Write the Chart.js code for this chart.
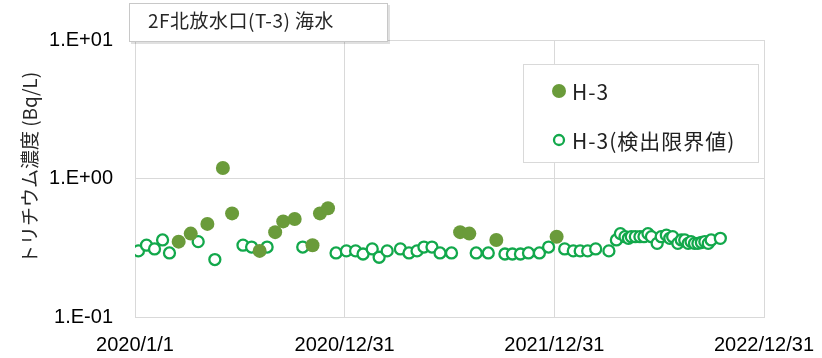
<!DOCTYPE html>
<html lang="ja">
<head>
<meta charset="utf-8">
<script src="https://cdn.jsdelivr.net/npm/chart.js@4/dist/chart.umd.min.js"></script>
<style>
    html, body { margin: 0; padding: 0; background: #fff; }
    #wrap { width: 822px; height: 358px; }
</style>
</head>
<body>
<div id="wrap"><canvas id="h3Chart" width="822" height="358"></canvas></div>
<script>
// H-3 測定値（検出された試料）
const h3Dates = [
    '2020-03-17', '2020-04-07', '2020-05-06', '2020-06-02', '2020-06-18', '2020-08-05',
    '2020-09-01', '2020-09-15', '2020-10-05', '2020-11-05', '2020-11-18', '2020-12-02',
    '2021-07-20', '2021-08-05', '2021-09-21', '2022-01-04'
];
const h3Values = [
    0.35, 0.40, 0.47, 1.19, 0.56, 0.30,
    0.41, 0.49, 0.51, 0.33, 0.56, 0.61,
    0.41, 0.40, 0.36, 0.38
];

// 検出限界値（不検出の試料）
const limitDates = [
    '2020-01-07', '2020-01-21', '2020-02-04', '2020-02-18', '2020-03-01', '2020-04-20',
    '2020-05-19', '2020-07-07', '2020-07-22', '2020-08-18', '2020-10-19', '2020-12-16',
    '2021-01-03', '2021-01-19', '2021-02-01', '2021-02-17', '2021-03-01', '2021-03-15',
    '2021-04-07', '2021-04-22', '2021-05-06', '2021-05-18', '2021-06-01', '2021-06-15',
    '2021-07-05', '2021-08-17', '2021-09-07', '2021-10-06', '2021-10-19', '2021-11-02',
    '2021-11-16', '2021-12-05', '2021-12-21', '2022-01-18', '2022-02-02', '2022-02-14',
    '2022-02-27', '2022-03-13', '2022-04-05', '2022-04-18', '2022-04-25', '2022-05-03',
    '2022-05-09', '2022-05-14', '2022-05-21', '2022-05-29', '2022-06-05', '2022-06-12',
    '2022-06-18', '2022-06-28', '2022-07-05', '2022-07-14', '2022-07-20', '2022-07-25',
    '2022-08-03', '2022-08-09', '2022-08-15', '2022-08-21', '2022-08-26', '2022-09-01',
    '2022-09-07', '2022-09-13', '2022-09-19', '2022-09-25', '2022-09-30', '2022-10-16'
];
const limitValues = [
    0.30, 0.33, 0.31, 0.36, 0.29, 0.35,
    0.26, 0.33, 0.32, 0.32, 0.32, 0.29,
    0.30, 0.30, 0.285, 0.31, 0.27, 0.30,
    0.31, 0.29, 0.30, 0.32, 0.32, 0.29,
    0.29, 0.29, 0.29, 0.285, 0.285, 0.285,
    0.29, 0.29, 0.32, 0.31, 0.30, 0.30,
    0.30, 0.31, 0.30, 0.36, 0.40, 0.38,
    0.37, 0.38, 0.38, 0.38, 0.38, 0.40,
    0.38, 0.34, 0.38, 0.39, 0.37, 0.38,
    0.34, 0.36, 0.36, 0.34, 0.35, 0.34,
    0.34, 0.345, 0.35, 0.34, 0.36, 0.37
];

// 軸の目盛
const xTickDates = ['2020-01-01', '2020-12-31', '2021-12-31', '2022-12-31'];
const xTickLabels = ['2020/1/1', '2020/12/31', '2021/12/31', '2022/12/31'];
const yTickValues = [0.1, 1, 10];
const yTickLabels = ['1.E-01', '1.E+00', '1.E+01'];

const chartTitle = '2F北放水口(T-3) 海水';
const yTitle = 'トリチウム濃度 (Bq/L)';

function toTime(s) {
    const p = s.split('-');
    return Date.UTC(+p[0], +p[1] - 1, +p[2]);
}

function toPoints(dates, values) {
    return dates.map(function (d, i) {
        return { x: toTime(d), y: values[i] };
    });
}

const tickFont = { family: "'Liberation Sans Narrow', 'Liberation Sans', sans-serif", size: 20 };
const cjkFont = "'Noto Sans CJK JP', 'Noto Sans', sans-serif";

// タイトル枠・凡例・縦軸タイトルを描画
const overlayPlugin = {
    id: 'overlay',
    afterDraw: function (chart) {
        const ctx = chart.ctx;
        ctx.save();

        // タイトル枠
        ctx.fillStyle = 'rgba(0, 0, 0, 0.12)';
        ctx.fillRect(131, 5, 259, 39);
        ctx.fillStyle = '#fff';
        ctx.fillRect(129, 3, 259, 39);
        ctx.strokeStyle = '#c8c8c8';
        ctx.lineWidth = 1;
        ctx.strokeRect(129.5, 3.5, 258, 38);
        ctx.fillStyle = '#262626';
        ctx.font = '19px ' + cjkFont;
        ctx.letterSpacing = '0.5px';
        ctx.textAlign = 'left';
        ctx.textBaseline = 'middle';
        ctx.fillText(chartTitle, 148, 21);

        // 凡例
        ctx.fillStyle = '#fff';
        ctx.fillRect(523, 64, 236, 99);
        ctx.strokeStyle = '#d9d9d9';
        ctx.strokeRect(523.5, 64.5, 235, 98);
        const rows = [91, 140];
        chart.data.datasets.forEach(function (ds, i) {
            const y = rows[i];
            ctx.beginPath();
            ctx.arc(559, y, ds.legendRadius, 0, Math.PI * 2);
            ctx.fillStyle = ds.backgroundColor;
            ctx.fill();
            if (ds.borderWidth > 0) {
                ctx.lineWidth = ds.borderWidth;
                ctx.strokeStyle = ds.borderColor;
                ctx.stroke();
            }
            ctx.fillStyle = '#222';
            ctx.font = '21px ' + cjkFont;
            ctx.letterSpacing = '1px';
            ctx.textAlign = 'left';
            ctx.textBaseline = 'middle';
            ctx.fillText(ds.label, 572, y + 1);
        });

        // 縦軸タイトル
        ctx.translate(30, 168);
        ctx.rotate(-Math.PI / 2);
        ctx.fillStyle = '#262626';
        ctx.font = '19px ' + cjkFont;
        ctx.letterSpacing = '0px';
        ctx.textAlign = 'center';
        ctx.textBaseline = 'middle';
        ctx.fillText(yTitle, 0, 0);

        ctx.restore();
    }
};

const h3Chart = new Chart(document.getElementById('h3Chart'), {
    type: 'scatter',
    data: {
        datasets: [{
            label: 'H-3',
            data: toPoints(h3Dates, h3Values),
            backgroundColor: '#6A9B3A',
            borderColor: '#6A9B3A',
            borderWidth: 0,
            pointRadius: 7,
            legendRadius: 7
        }, {
            label: 'H-3(検出限界値)',
            data: toPoints(limitDates, limitValues),
            backgroundColor: '#fff',
            borderColor: '#12A84B',
            borderWidth: 2.3,
            pointRadius: 5.5,
            legendRadius: 5
        }]
    },
    options: {
        responsive: false,
        animation: false,
        devicePixelRatio: 1,
        events: [],
        layout: {
            padding: { left: 0, top: 40, right: 58, bottom: 0 }
        },
        plugins: {
            legend: { display: false },
            tooltip: { enabled: false }
        },
        scales: {
            x: {
                type: 'linear',
                min: toTime(xTickDates[0]),
                max: toTime(xTickDates[xTickDates.length - 1]),
                afterBuildTicks: function (scale) {
                    scale.ticks = xTickDates.map(function (d) { return { value: toTime(d) }; });
                },
                afterFit: function (scale) {
                    scale.height = 41;
                    scale.paddingLeft = 0;
                    scale.paddingRight = 0;
                },
                ticks: {
                    autoSkip: false,
                    maxRotation: 0,
                    padding: 16,
                    color: '#000',
                    font: tickFont,
                    callback: function (value, index) {
                        return xTickLabels[index];
                    }
                },
                grid: {
                    color: '#d9d9d9',
                    drawTicks: false
                },
                border: { color: '#d9d9d9' }
            },
            y: {
                type: 'logarithmic',
                min: yTickValues[0],
                max: yTickValues[yTickValues.length - 1],
                afterBuildTicks: function (scale) {
                    scale.ticks = yTickValues.map(function (v) { return { value: v }; });
                },
                afterFit: function (scale) {
                    scale.width = 135;
                    scale.paddingTop = 0;
                    scale.paddingBottom = 0;
                },
                ticks: {
                    padding: 22,
                    color: '#000',
                    font: tickFont,
                    callback: function (value, index) {
                        return yTickLabels[index];
                    }
                },
                grid: {
                    color: '#d9d9d9',
                    drawTicks: false
                },
                border: { color: '#d9d9d9' }
            }
        }
    },
    plugins: [overlayPlugin]
});
</script>
</body>
</html>
